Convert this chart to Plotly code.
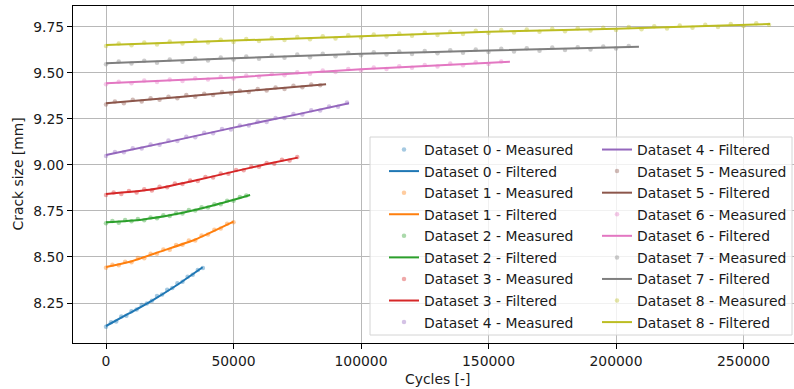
import plotly.graph_objects as go

# ---------------- data ----------------
colors = ["#1f77b4", "#ff7f0e", "#2ca02c", "#d62728", "#9467bd",
          "#8c564b", "#e377c2", "#7f7f7f", "#bcbd22"]

# filtered curves: key points (cycles, crack size in mm)
filt_x_0 = [0, 9000, 18400, 28000, 37900]
filt_y_0 = [8.125, 8.193, 8.266, 8.349, 8.444]
filt_x_1 = [0, 9400, 21200, 35000, 50000]
filt_y_1 = [8.446, 8.474, 8.529, 8.595, 8.692]
filt_x_2 = [0, 14000, 27000, 42700, 56500]
filt_y_2 = [8.689, 8.703, 8.732, 8.783, 8.837]
filt_x_3 = [0, 17000, 34100, 50000, 63000, 75200]
filt_y_3 = [8.842, 8.865, 8.913, 8.964, 9.005, 9.040]
filt_x_4 = [0, 25000, 50000, 75000, 95300]
filt_y_4 = [9.054, 9.127, 9.203, 9.275, 9.335]
filt_x_5 = [0, 30000, 60000, 86300]
filt_y_5 = [9.335, 9.371, 9.408, 9.439]
filt_x_6 = [0, 50000, 100000, 158400]
filt_y_6 = [9.444, 9.476, 9.520, 9.561]
filt_x_7 = [0, 50000, 100000, 150000, 209000]
filt_y_7 = [9.553, 9.580, 9.604, 9.622, 9.643]
filt_x_8 = [0, 50000, 100000, 150000, 200000, 260400]
filt_y_8 = [9.652, 9.676, 9.700, 9.724, 9.741, 9.766]

# measured points: sampling step (cycles) and crack sizes
meas_step = [2000, 2500, 2500, 3000, 3500, 3500, 5000, 5000, 5000]
meas_y_0 = [8.121, 8.146, 8.149, 8.176, 8.181, 8.205, 8.214, 8.239, 8.247, 8.262,
            8.288, 8.296, 8.322, 8.331, 8.357, 8.366, 8.393, 8.403, 8.429, 8.440]
meas_y_1 = [8.441, 8.458, 8.455, 8.474, 8.471, 8.494, 8.493, 8.517, 8.518, 8.541,
            8.540, 8.565, 8.566, 8.589, 8.590, 8.617, 8.622, 8.648, 8.655, 8.681, 8.689]
meas_y_2 = [8.684, 8.696, 8.686, 8.701, 8.694, 8.707, 8.700, 8.715, 8.711, 8.727,
            8.723, 8.738, 8.737, 8.755, 8.753, 8.771, 8.769, 8.787, 8.786, 8.806,
            8.806, 8.826, 8.834]
meas_y_3 = [8.837, 8.851, 8.843, 8.859, 8.851, 8.868, 8.861, 8.882, 8.879, 8.899,
            8.896, 8.916, 8.913, 8.935, 8.932, 8.954, 8.952, 8.973, 8.971, 8.992,
            8.990, 9.011, 9.007, 9.028, 9.025, 9.044]
meas_y_4 = [9.049, 9.070, 9.069, 9.091, 9.089, 9.112, 9.110, 9.133, 9.131, 9.153,
            9.151, 9.175, 9.172, 9.195, 9.193, 9.215, 9.214, 9.236, 9.234, 9.256,
            9.255, 9.277, 9.275, 9.297, 9.296, 9.318, 9.316, 9.339]
meas_y_5 = [9.329, 9.345, 9.336, 9.354, 9.345, 9.362, 9.354, 9.371, 9.363, 9.380,
            9.371, 9.387, 9.380, 9.397, 9.388, 9.404, 9.396, 9.413, 9.405, 9.421,
            9.413, 9.430, 9.422, 9.438, 9.433]
meas_y_6 = [9.439, 9.452, 9.444, 9.459, 9.451, 9.465, 9.457, 9.472, 9.464, 9.479,
            9.470, 9.486, 9.479, 9.495, 9.487, 9.504, 9.496, 9.513, 9.505, 9.522,
            9.514, 9.530, 9.521, 9.537, 9.528, 9.544, 9.535, 9.551, 9.542, 9.558,
            9.549, 9.563]
meas_y_7 = [9.548, 9.562, 9.551, 9.567, 9.556, 9.573, 9.561, 9.579, 9.568, 9.584,
            9.573, 9.590, 9.578, 9.595, 9.583, 9.600, 9.586, 9.605, 9.591, 9.610,
            9.597, 9.613, 9.600, 9.617, 9.603, 9.620, 9.607, 9.624, 9.610, 9.627,
            9.614, 9.631, 9.617, 9.634, 9.621, 9.638, 9.625, 9.640, 9.628, 9.644,
            9.633, 9.646]
meas_y_8 = [9.647, 9.660, 9.651, 9.666, 9.655, 9.671, 9.660, 9.676, 9.665, 9.681,
            9.669, 9.685, 9.674, 9.690, 9.679, 9.695, 9.683, 9.700, 9.688, 9.705,
            9.693, 9.709, 9.698, 9.714, 9.703, 9.719, 9.707, 9.724, 9.712, 9.729,
            9.717, 9.733, 9.720, 9.736, 9.724, 9.740, 9.727, 9.743, 9.731, 9.746,
            9.734, 9.750, 9.738, 9.754, 9.742, 9.758, 9.746, 9.762, 9.750, 9.766,
            9.755, 9.770, 9.762]

x_ticks = [0, 50000, 100000, 150000, 200000, 250000]
y_ticks = [8.25, 8.50, 8.75, 9.00, 9.25, 9.50, 9.75]
y_tick_text = ["8.25", "8.50", "8.75", "9.00", "9.25", "9.50", "9.75"]

filt_x = [filt_x_0, filt_x_1, filt_x_2, filt_x_3, filt_x_4, filt_x_5, filt_x_6, filt_x_7, filt_x_8]
filt_y = [filt_y_0, filt_y_1, filt_y_2, filt_y_3, filt_y_4, filt_y_5, filt_y_6, filt_y_7, filt_y_8]
meas_y = [meas_y_0, meas_y_1, meas_y_2, meas_y_3, meas_y_4, meas_y_5, meas_y_6, meas_y_7, meas_y_8]

# ---------------- figure ----------------
FONT = "DejaVu Sans"
FS = 13.9
TXT = "#1a1a1a"
fig = go.Figure()

entry = 0  # legend entries fill two columns (first 9 left, rest right)
for i in range(9):
    mx = [j * meas_step[i] for j in range(len(meas_y[i]))]
    fig.add_trace(go.Scatter(
        x=mx, y=meas_y[i], mode="markers", name=f"Dataset {i} - Measured",
        marker=dict(color=colors[i], size=4.5, opacity=0.4, line=dict(width=0)),
        legend="legend" if entry < 9 else "legend2", legendgroup=f"g{entry}"))
    entry += 1
    fig.add_trace(go.Scatter(
        x=filt_x[i], y=filt_y[i], mode="lines", name=f"Dataset {i} - Filtered",
        line=dict(color=colors[i], width=2, shape="spline", smoothing=0.6),
        legend="legend" if entry < 9 else "legend2", legendgroup=f"g{entry}"))
    entry += 1

leg_common = dict(
    yanchor="top", xanchor="left", orientation="v",
    bgcolor="rgba(0,0,0,0)", borderwidth=0, itemwidth=30,
    font=dict(family=FONT, size=FS, color=TXT), traceorder="grouped",
    tracegroupgap=0.5,
)
PW = 721.0  # plot width in px
PH = 337.0  # plot height in px

fig.update_layout(
    width=794, height=389,
    margin=dict(l=73, r=0, t=6, b=46),
    paper_bgcolor="white", plot_bgcolor="white",
    font=dict(family=FONT, size=FS, color=TXT),
    showlegend=True,
    legend=dict(x=(384 - 73) / PW, y=(343 - 134) / PH, **leg_common),
    legend2=dict(x=(597 - 73) / PW, y=(343 - 134) / PH, **leg_common),
    shapes=[dict(type="rect", xref="paper", yref="paper", layer="above",
                 x0=(370 - 73) / PW, x1=(792 - 73) / PW,
                 y0=(343 - 335) / PH, y1=(343 - 137) / PH,
                 fillcolor="rgba(255,255,255,0.8)",
                 line=dict(color="#d4d4d4", width=1))],
    xaxis=dict(
        range=[-12941, 269804], tickvals=x_ticks, ticktext=[str(v) for v in x_ticks],
        showgrid=True, gridcolor="#b8b8b8", gridwidth=1,
        showline=True, linecolor="black", linewidth=1, mirror=True,
        ticks="outside", ticklen=5, tickcolor="black", tickwidth=1,
        zeroline=False, tickfont=dict(family=FONT, size=FS),
    ),
    yaxis=dict(
        range=[8.0326, 9.864], tickvals=y_ticks, ticktext=y_tick_text,
        showgrid=True, gridcolor="#b8b8b8", gridwidth=1,
        showline=True, linecolor="black", linewidth=1, mirror=False,
        ticks="outside", ticklen=5, tickcolor="black", tickwidth=1,
        zeroline=False, tickfont=dict(family=FONT, size=FS),
    ),
    annotations=[
        dict(text="Cycles [-]", xref="x", yref="paper", x=129804, y=(343 - 379) / PH,
             xanchor="center", yanchor="middle", showarrow=False,
             font=dict(family=FONT, size=FS)),
        dict(text="Crack size [mm]", xref="paper", yref="paper", x=(17 - 73) / PW,
             y=0.5, xanchor="center", yanchor="middle", textangle=-90,
             showarrow=False, font=dict(family=FONT, size=FS)),
    ],
)

fig.write_html("out.html")
